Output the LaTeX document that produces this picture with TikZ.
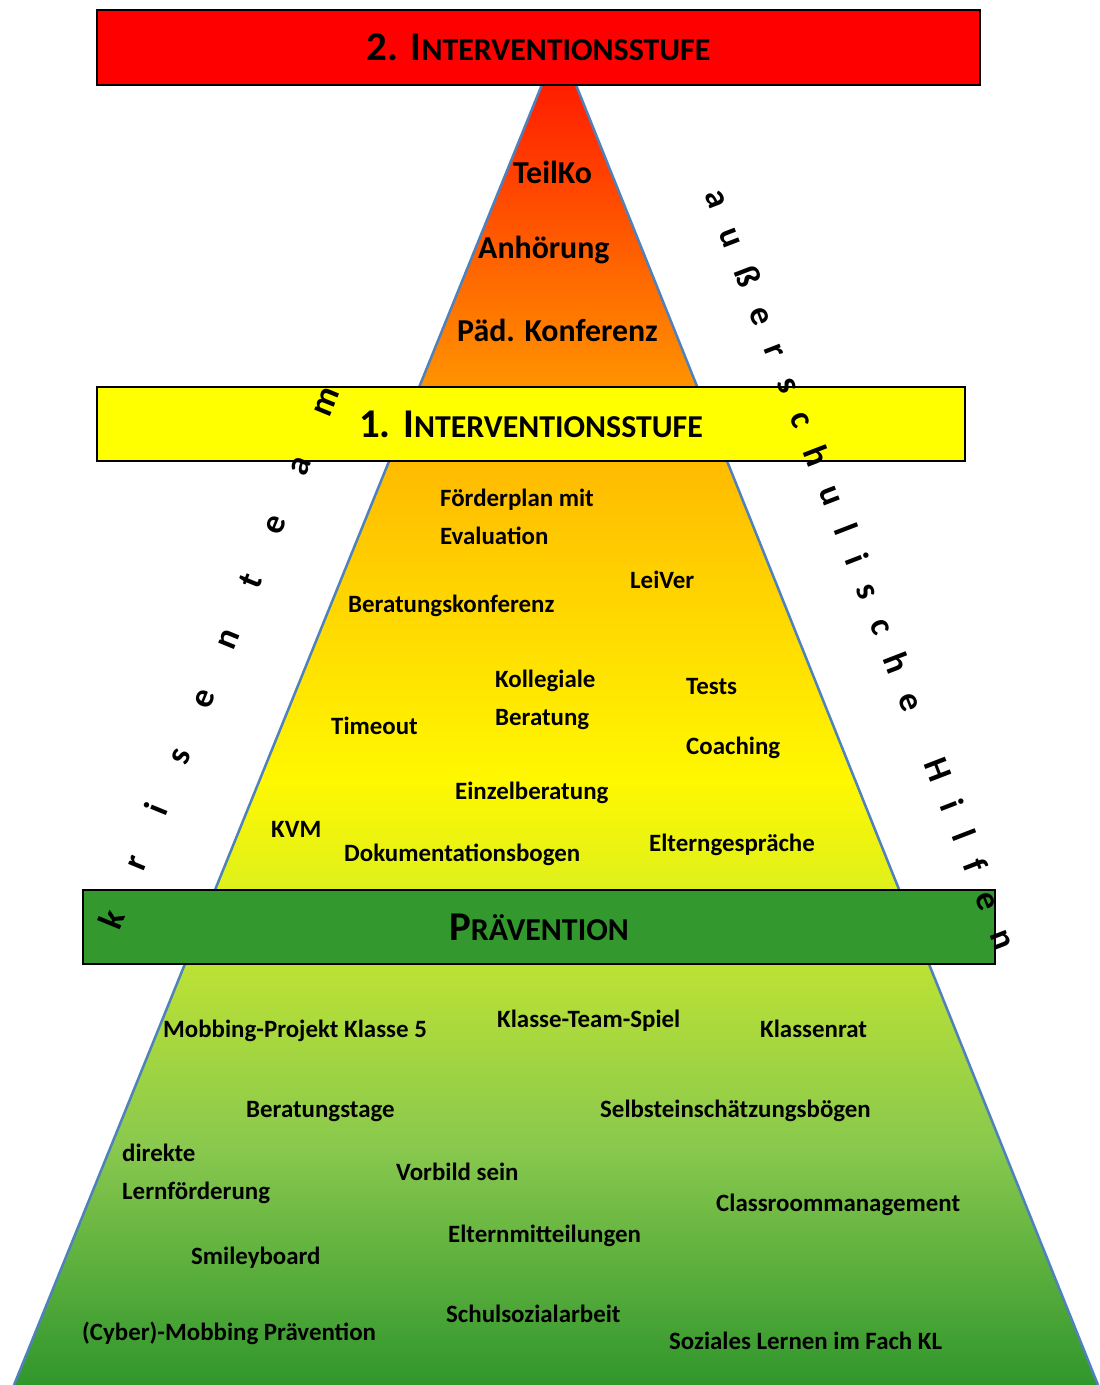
\documentclass[tikz,border=0pt]{standalone}
\usepackage{fontspec}
\setmainfont{Carlito}
\usetikzlibrary{decorations.text}
\definecolor{edgeblue}{HTML}{4F81BD}
\definecolor{gA}{RGB}{255,12,0}
\definecolor{gB}{RGB}{255,148,0}
\definecolor{gC}{RGB}{255,186,0}
\definecolor{gD}{RGB}{255,248,0}
\definecolor{gE}{RGB}{222,240,28}
\definecolor{gF}{RGB}{188,226,52}
\definecolor{gG}{RGB}{136,200,78}
\definecolor{gH}{RGB}{48,150,44}
\definecolor{bannerred}{RGB}{255,0,0}
\definecolor{banneryellow}{RGB}{255,255,0}
\definecolor{bannergreen}{RGB}{51,153,46}
\newcommand\tscaps[2]{{\bfseries\fontsize{41}{41}\selectfont #1}{\bfseries\fontsize{32}{32}\selectfont #2}}
\begin{document}
\begin{tikzpicture}[x=1bp,y=-1bp,
  item/.style={anchor=west, inner sep=0pt, text=black, align=left,
    font=\bfseries\fontsize{25}{38}\selectfont},
  topitem/.style={item, font=\bfseries\fontsize{32}{34}\selectfont},
  banner/.style={draw=black, line width=1.5bp, inner sep=0pt, text=black},
  curvy/.style={decorate, decoration={text along path, text align={fit to path},
    text={|\bfseries\fontsize{35}{35}\selectfont|#1}}}
]
\useasboundingbox (0,0) rectangle (1099,1385);

% pyramid body
\begin{scope}
  \clip (556,50) -- (562,50) -- (1098,1385) -- (14,1385) -- cycle;
  \shade[top color=gA, bottom color=gB] (0,40) rectangle (1099,388);
  \fill[gB] (0,386) rectangle (1099,440);
  \shade[top color=gB, bottom color=gC] (0,438) rectangle (1099,462);
  \shade[top color=gC, bottom color=gD] (0,460) rectangle (1099,780);
  \shade[top color=gD, bottom color=gE] (0,779) rectangle (1099,891);
  \fill[gE] (0,890) rectangle (1099,930);
  \shade[top color=gE, bottom color=gF] (0,929) rectangle (1099,965);
  \shade[top color=gF, bottom color=gG] (0,964) rectangle (1099,1150);
  \shade[top color=gG, bottom color=gH] (0,1149) rectangle (1099,1386);
\end{scope}
\coordinate (pl) at (556,50);
\coordinate (pr) at (562,50);
\coordinate (bl) at (14,1385);
\coordinate (br) at (1098,1385);
\draw[edgeblue, line width=2.5bp] (bl) -- (pl) -- (pr) -- (br);

% banners
\node[banner, fill=bannerred, minimum width=883bp, minimum height=75bp] (s2) at (538.5,47.5)
  {\tscaps{2. I}{NTERVENTIONSSTUFE}};
\node[banner, fill=banneryellow, minimum width=868bp, minimum height=74bp] (s1) at (531,424)
  {\tscaps{1. I}{NTERVENTIONSSTUFE}};
\node[banner, fill=bannergreen, minimum width=912bp, minimum height=74bp] (pv) at (539,927)
  {\tscaps{P}{RÄVENTION}};

% top level
\node[topitem] (teilko) at (513,172) {TeilKo};
\node[topitem] (anh) at (478,250) {Anhörung};
\node[topitem] (paed) at (457,330) {Päd. Konferenz};

% middle level
\node[item] (foerder) at (440,517) {Förderplan mit\\Evaluation};
\node[item] (beratk) at (348,606) {Beratungskonferenz};
\node[item] (leiver) at (630,580) {LeiVer};
\node[item] (koll) at (495,700) {Kollegiale\\Beratung};
\node[item] (tests) at (686,687) {Tests};
\node[item] (timeout) at (331,726) {Timeout};
\node[item] (coach) at (686,748) {Coaching};
\node[item] (einzel) at (455,793) {Einzelberatung};
\node[item] (kvm) at (271,829) {KVM};
\node[item] (doku) at (344,855) {Dokumentationsbogen};
\node[item] (eltg) at (649,845) {Elterngespräche};

% prevention level
\node[item] (mob5) at (163,1031) {Mobbing-Projekt Klasse 5};
\node[item] (kts) at (497,1021) {Klasse-Team-Spiel};
\node[item] (krat) at (760,1029) {Klassenrat};
\node[item] (btage) at (246,1112) {Beratungstage};
\node[item] (selbst) at (600,1111) {Selbsteinschätzungsbögen};
\node[item] (direkt) at (122,1174) {direkte\\Lernförderung};
\node[item] (vorbild) at (396,1172) {Vorbild sein};
\node[item] (class) at (716,1205) {Classroommanagement};
\node[item] (elmit) at (448,1236) {Elternmitteilungen};
\node[item] (smiley) at (191,1258) {Smileyboard};
\node[item] (schulsoz) at (446,1314) {Schulsozialarbeit};
\node[item] (cyber) at (82,1333) {(Cyber)-Mobbing Prävention};
\node[item] (sozial) at (669,1341) {Soziales Lernen im Fach KL};

% curved side texts
\coordinate (ks) at (119,931);
\coordinate (ke) at (340,392);
\path[curvy={krisenteam}] (ks) -- (ke);
\coordinate (as) at (704,195);
\coordinate (ae) at (996,952);
\path[curvy={außerschulische Hilfen}] (as) -- (ae);
\end{tikzpicture}
\end{document}
